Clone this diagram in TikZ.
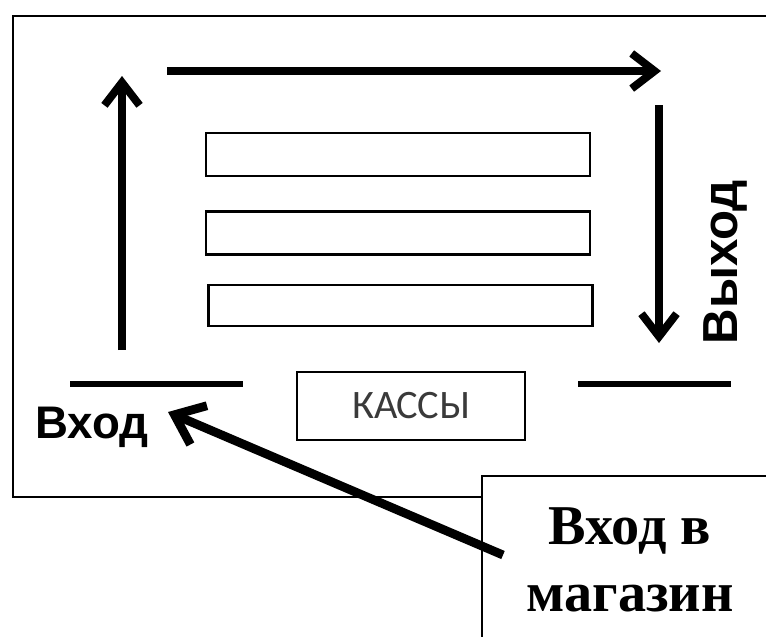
\documentclass[tikz,border=0pt]{standalone}
\usepackage{fontspec}
\setmainfont{Liberation Serif}
\newfontfamily\arialfont{Liberation Sans}
\newfontfamily\calibrifont{Carlito}
\usetikzlibrary{arrows.meta}
\definecolor{kassagray}{HTML}{3A3A3A}

\begin{document}
\begin{tikzpicture}[x=0.02cm, y=-0.02cm,
    shelf/.style={draw, line width=1.2pt, minimum width=7.68cm, minimum height=0.86cm, inner sep=0pt},
    wall/.style={line width=3pt},
    flow/.style={line width=4.5pt, -{Straight Barb[length=13pt, width=20pt]}},
    label/.style={font=\arialfont\bfseries\fontsize{26}{30}\selectfont, inner sep=1pt}]
  \useasboundingbox (0,0) rectangle (766,637);
  % outer frame of the shop and the note box
  \draw[line width=1.6pt] (766,16) -- (13,16) -- (13,497) -- (482,497);
  \draw[line width=1.4pt] (766,476) -- (482,476) -- (482,637);

  % shelves
  \node[shelf] (shelf1) at (398,154.5) {};
  \node[shelf] (shelf2) at (398,233) {};
  \node[shelf, minimum height=0.82cm] (shelf3) at (400.5,305.5) {};

  % checkout
  \node[draw, line width=1.2pt, minimum width=4.56cm, minimum height=1.36cm,
        font=\calibrifont\fontsize{23}{26}\selectfont, text=kassagray] (kassy) at (411,406) {КАССЫ};

  % walls at the doors
  \coordinate (wallL1) at (70,384);
  \coordinate (wallL2) at (243,384);
  \coordinate (wallR1) at (578,384);
  \coordinate (wallR2) at (731,384);
  \draw[wall] (wallL1) -- (wallL2);
  \draw[wall] (wallR1) -- (wallR2);

  % labels
  \node[label, anchor=base] (entry) at (92,438) {Вход};
  \node[label, font=\arialfont\bfseries\fontsize{28}{32}\selectfont, rotate=90, anchor=base] (exit) at (737,262) {Выход};
  \node[font=\bfseries\fontsize{32}{38}\selectfont, align=center] (store) at (630,560) {Вход в\\магазин};

  % route
  \coordinate (upS) at (122,350);
  \coordinate (upE) at (122,76);
  \coordinate (topS) at (167,71);
  \coordinate (topE) at (661,71);
  \coordinate (downS) at (659,105);
  \coordinate (downE) at (659,343);
  \draw[flow] (upS) -- (upE);
  \draw[flow] (topS) -- (topE);
  \draw[flow] (downS) -- (downE);

  % from the street to the entrance
  \coordinate (streetS) at (503,555);
  \coordinate (entryTip) at (168,412);
  \draw[line width=5pt, -{Straight Barb[length=15pt, width=24pt]}] (streetS) -- (entryTip);
\end{tikzpicture}
\end{document}
